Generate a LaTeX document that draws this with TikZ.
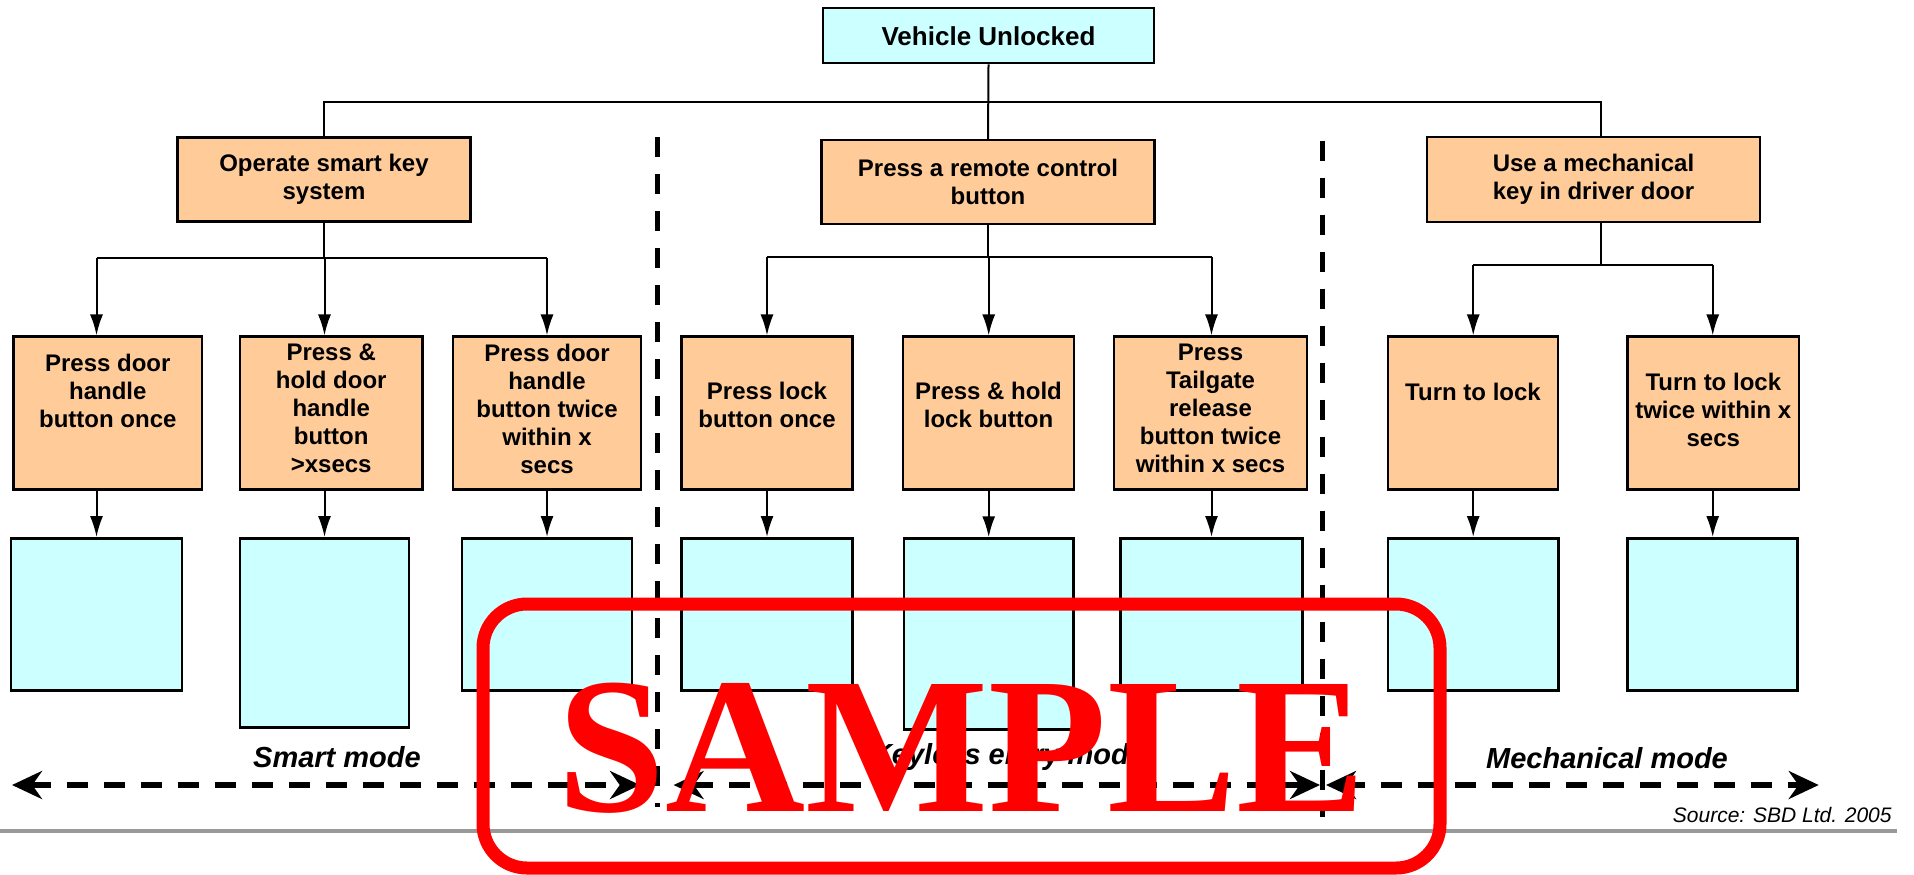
\documentclass[tikz,border=0pt]{standalone}
\usepackage{fontspec}
\setmainfont{Liberation Sans}
\newfontfamily\samplefont{Liberation Serif}
\usepackage{tikz}
\usetikzlibrary{arrows.meta}
\definecolor{cyanbox}{HTML}{CCFFFF}
\definecolor{orangebox}{HTML}{FFCC99}
\definecolor{rulegray}{HTML}{999999}
\tikzset{
  topbox/.style={draw, line width=1.25pt, fill=cyanbox, inner sep=0pt, font=\bfseries\fontsize{13}{15}\selectfont},
  waybox/.style={draw, line width=1.25pt, fill=orangebox, inner sep=0pt, align=center, font=\bfseries\fontsize{12}{14}\selectfont},
  resbox/.style={draw, line width=1.25pt, fill=cyanbox, inner sep=0pt},
  boxtext/.style={inner sep=0pt, align=center, font=\bfseries\fontsize{12}{14}\selectfont},
  link/.style={line width=1pt},
  pointer/.style={line width=1pt, -{Latex[length=10.5pt,width=6.5pt]}},
  divider/.style={line width=2.5pt, dash pattern=on 10pt off 8.5pt},
  modearrow/.style={line width=2.75pt, dash pattern=on 10.5pt off 8pt, {Stealth[length=15pt,width=14pt]}-{Stealth[length=15pt,width=14pt]}},
  modetext/.style={inner sep=0pt, font=\bfseries\itshape\fontsize{14.5}{17}\selectfont}
}
\begin{document}
\begin{tikzpicture}[x=0.5pt,y=-0.5pt]
\useasboundingbox (0,0) rectangle (1914,874);

% top level
\node[topbox, minimum width=165.5pt, minimum height=27.5pt] (veh) at (988.5,35.7) {Vehicle Unlocked};

% ways to lock
\node[waybox, minimum width=146.5pt, minimum height=42pt] (ops) at (324,179.5) {Operate smart key\\system};
\node[waybox, minimum width=166.5pt, minimum height=42pt] (rem) at (988,182) {Press a remote control\\button};
\node[waybox, minimum width=166.5pt, minimum height=42.5pt] (mech) at (1593.5,179.5) {Use a mechanical\\key in driver door};

% actions (boxes)
\node[waybox, minimum width=94.25pt, minimum height=76.3pt] (b1) at (107.8,413) {};
\node[waybox, minimum width=91.25pt, minimum height=76.3pt] (b2) at (331.2,413) {};
\node[waybox, minimum width=94pt, minimum height=76.3pt] (b3) at (547,413) {};
\node[waybox, minimum width=85.4pt, minimum height=76.3pt] (b4) at (767,413) {};
\node[waybox, minimum width=85.5pt, minimum height=76.3pt] (b5) at (988.5,413) {};
\node[waybox, minimum width=96.5pt, minimum height=76.3pt] (b6) at (1210.5,413) {};
\node[waybox, minimum width=85pt, minimum height=76.3pt] (b7) at (1473,413) {};
\node[waybox, minimum width=85.7pt, minimum height=76.3pt] (b8) at (1713.3,413) {};

% Text Node
\node[boxtext] (t1) at (107.8,391) {Press door\\handle\\button once};
\node[boxtext] (t2) at (331.2,408.7) {Press \&\\hold door\\handle\\button\\>xsecs};
\node[boxtext] (t3) at (547,408.7) {Press door\\handle\\button twice\\within x\\secs};
\node[boxtext] (t4) at (767,405) {Press lock\\button once};
\node[boxtext] (t5) at (988.5,405) {Press \& hold\\lock button};
\node[boxtext] (t6) at (1210.5,408.7) {Press\\Tailgate\\release\\button twice\\within x secs};
\node[boxtext] (t7) at (1473,391.7) {Turn to lock};
\node[boxtext] (t8) at (1713.3,409.7) {Turn to lock\\twice within x\\secs};

% results (empty)
\node[resbox, minimum width=85.5pt, minimum height=76.2pt] (r1) at (96.5,614.5) {};
\node[resbox, minimum width=84.5pt, minimum height=94.7pt] (r2) at (324.5,633) {};
\node[resbox, minimum width=85pt, minimum height=76.2pt] (r3) at (547,614.5) {};
\node[resbox, minimum width=85.5pt, minimum height=76.2pt] (r4) at (767,614.5) {};
\node[resbox, minimum width=84.7pt, minimum height=95.5pt] (r5) at (988.7,634) {};
\node[resbox, minimum width=91pt, minimum height=76.2pt] (r6) at (1211.5,614.5) {};
\node[resbox, minimum width=85.2pt, minimum height=76.2pt] (r7) at (1473.2,614.5) {};
\node[resbox, minimum width=85pt, minimum height=76.2pt] (r8) at (1712.7,614.5) {};

% tree lines
\coordinate (tbar) at (988.5,101.7);
\coordinate (mtop) at ([xshift=3.75pt]mech.north);
\draw[link] (veh.south) -- (rem.north);
\draw[link] (ops.north) |- (mtop |- tbar) -- (mtop);

\draw[link] (ops.south) -- ++(0,35) coordinate (sbar);
\draw[link] (sbar -| r1) -- (sbar -| r3);
\draw[link] (rem.south) -- ++(0,32) coordinate (kbar);
\draw[link] (kbar -| r4) -- (kbar -| r6);
\draw[link] (mtop |- mech.south) -- ++(0,41.3) coordinate (mbar);
\draw[link] (mbar -| r7) -- (mbar -| r8);

\foreach \k in {1,2,3} \draw[pointer] (sbar -| r\k) -- (r\k |- b\k.north);
\foreach \k in {4,5,6} \draw[pointer] (kbar -| r\k) -- (r\k |- b\k.north);
\foreach \k in {7,8} \draw[pointer] (mbar -| r\k) -- (r\k |- b\k.north);
\foreach \k in {1,...,8} \draw[pointer] (r\k |- b\k.south) -- (r\k.north);

% mode dividers
\coordinate (d1a) at (657,137);
\coordinate (d1b) at (657,806.7);
\coordinate (d2a) at (1322.6,140.7);
\coordinate (d2b) at (1322.6,816.7);
\draw[divider] (d1a) -- (d1b);
\draw[divider] (d2a) -- (d2b);

% mode arrows
\coordinate (sm1) at (12,785);
\coordinate (sm2) at (640,785);
\coordinate (ke1) at (673.6,785);
\coordinate (ke2) at (1320,785);
\coordinate (me1) at (1326,785);
\coordinate (me2) at (1818.7,785);
\draw[modearrow] (sm1) -- (sm2);
\draw[modearrow] (ke1) -- (ke2);
\draw[modearrow] (me1) -- (me2);

\node[modetext] (smart) at (337,757) {Smart mode};
\node[modetext] (keyless) at (1008,757) {Keyless entry mode};
\node[modetext] (mechmode) at (1607,758) {Mechanical mode};

% source
\draw[line width=2pt, rulegray] (0,831) -- (1897,831);
\node[anchor=east, inner sep=0pt, font=\itshape\fontsize{10.5}{12}\selectfont] (src) at (1892,815) {Source: SBD Ltd. 2005};

% stamp
\draw[red, line width=6.5pt, rounded corners=22pt] (483,604) rectangle (1440,868);
\node[anchor=base, inner sep=0pt, text=red, font=\samplefont\bfseries\fontsize{97}{97}\selectfont] (stamp) at (962,811) {SAMPLE};
\end{tikzpicture}
\end{document}
